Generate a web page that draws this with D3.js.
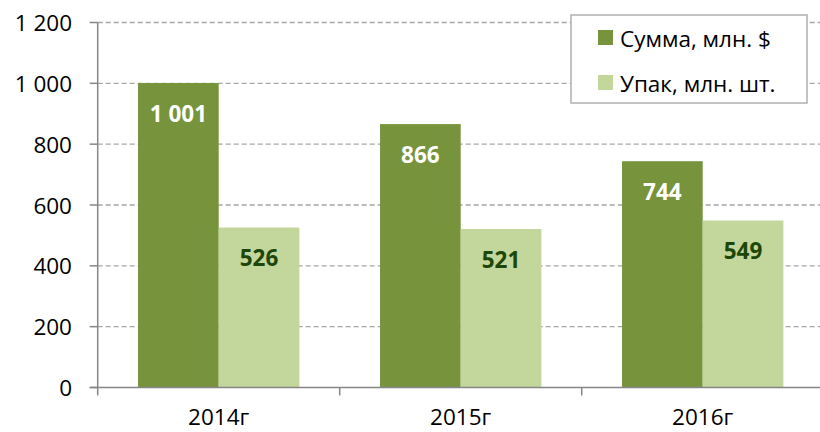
<!DOCTYPE html>
<html>
<head>
<meta charset="utf-8">
<script src="https://cdn.jsdelivr.net/npm/d3@7"></script>
<style>
  body { margin: 0; background: #fff; }
  svg { display: block; font-family: "Open Sans", "Noto Sans", sans-serif; }
</style>
</head>
<body>
<svg id="chart" width="820" height="432"></svg>
<script>
const years = ["2014г", "2015г", "2016г"];
const seriesNames = ["Сумма, млн. $", "Упак, млн. шт."];
const summa = [1001, 866, 744];
const upak = [526, 521, 549];
const yTicks = [0, 200, 400, 600, 800, 1000, 1200];

const colors = ["#77933c", "#c3d69b"];
const labelColors = ["#ffffff", "#1d470a"];

const svg = d3.select("#chart");
const plotLeft = 97.7, plotRight = 823.7, plotTop = 22.5, plotBottom = 387.5;
const fontSize = 22.5;

const ru = d3.formatLocale({ decimal: ",", thousands: " ", grouping: [3], currency: ["", ""] });
const fmt = ru.format(",d");

const x = d3.scaleBand().domain(years).range([plotLeft, plotRight]).padding(0);
const x1 = d3.scaleBand().domain(seriesNames).range([0, x.bandwidth()]).paddingInner(0).paddingOuter(0.5);
const y = d3.scaleLinear().domain([0, 1200]).range([plotBottom, plotTop]);

const rows = years.map((yr, i) => ({ year: yr, values: [summa[i], upak[i]] }));

// grid lines
svg.append("g")
    .selectAll("line")
    .data(yTicks.filter(d => d > 0))
    .join("line")
    .attr("x1", plotLeft).attr("x2", 820)
    .attr("y1", d => y(d)).attr("y2", d => y(d))
    .attr("stroke", "#a6a6a6")
    .attr("stroke-width", 1.3)
    .attr("stroke-dasharray", "5,3");

// bars
const groups = svg.append("g")
    .selectAll("g")
    .data(rows)
    .join("g")
    .attr("transform", d => `translate(${x(d.year)},0)`);

groups.selectAll("rect")
    .data(d => d.values.map((v, k) => ({ key: seriesNames[k], k, v })))
    .join("rect")
    .attr("x", d => x1(d.key))
    .attr("width", x1.bandwidth())
    .attr("y", d => y(d.v))
    .attr("height", d => y(0) - y(d.v))
    .attr("fill", d => colors[d.k]);

groups.selectAll("text")
    .data(d => d.values.map((v, k) => ({ key: seriesNames[k], k, v })))
    .join("text")
    .attr("x", d => x1(d.key) + x1.bandwidth() / 2)
    .attr("y", d => y(d.v) + 30)
    .attr("text-anchor", "middle")
    .attr("dominant-baseline", "central")
    .attr("font-size", 22.5)
    .attr("font-weight", "bold")
    .attr("fill", d => labelColors[d.k])
    .text(d => fmt(d.v));

// y axis
const yAxis = svg.append("g");
yAxis.append("line")
    .attr("x1", plotLeft).attr("x2", plotLeft)
    .attr("y1", plotTop).attr("y2", plotBottom)
    .attr("stroke", "#868686").attr("stroke-width", 1.5);
yAxis.selectAll("line.tick")
    .data(yTicks)
    .join("line")
    .attr("class", "tick")
    .attr("x1", plotLeft - 8).attr("x2", plotLeft)
    .attr("y1", d => y(d)).attr("y2", d => y(d))
    .attr("stroke", "#868686").attr("stroke-width", 1.5);
yAxis.selectAll("text")
    .data(yTicks)
    .join("text")
    .attr("x", 72)
    .attr("y", d => y(d))
    .attr("text-anchor", "end")
    .attr("dominant-baseline", "central")
    .attr("font-size", fontSize)
    .attr("fill", "#000")
    .text(d => fmt(d));

// x axis
const xAxis = svg.append("g");
xAxis.append("line")
    .attr("x1", plotLeft - 8).attr("x2", 820)
    .attr("y1", plotBottom).attr("y2", plotBottom)
    .attr("stroke", "#868686").attr("stroke-width", 1.5);
xAxis.selectAll("line.tick")
    .data(years.map(d => x(d)).concat([plotRight]))
    .join("line")
    .attr("class", "tick")
    .attr("x1", d => d).attr("x2", d => d)
    .attr("y1", plotBottom).attr("y2", plotBottom + 8)
    .attr("stroke", "#868686").attr("stroke-width", 1.5);
xAxis.selectAll("text")
    .data(years)
    .join("text")
    .attr("x", d => x(d) + x.bandwidth() / 2)
    .attr("y", 425)
    .attr("text-anchor", "middle")
    .attr("font-size", fontSize)
    .attr("fill", "#000")
    .text(d => d);

// legend
const legend = svg.append("g").attr("transform", "translate(571,15)");
legend.append("rect")
    .attr("width", 236).attr("height", 88)
    .attr("fill", "#fff")
    .attr("stroke", "#b0b0b0").attr("stroke-width", 1.5);
const items = legend.selectAll("g")
    .data(seriesNames)
    .join("g")
    .attr("transform", (d, i) => `translate(27,${15 + i * 45})`);
items.append("rect")
    .attr("width", 15).attr("height", 15)
    .attr("fill", (d, i) => colors[i]);
items.append("text")
    .attr("x", 22).attr("y", 8)
    .attr("dominant-baseline", "central")
    .attr("font-size", fontSize)
    .attr("fill", "#000")
    .text(d => d);
</script>
</body>
</html>
